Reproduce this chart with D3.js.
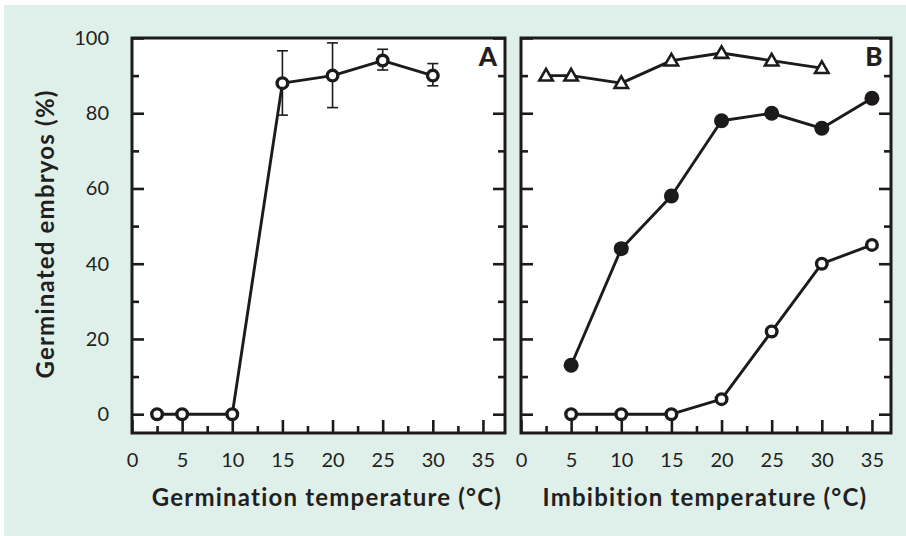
<!DOCTYPE html>
<html>
<head>
<meta charset="utf-8">
<script src="https://cdn.jsdelivr.net/npm/d3@7"></script>
<style>
  body { margin: 0; background: #fff; }
  svg text { font-family: Lato, "Open Sans", sans-serif; fill: #231f20; }
</style>
</head>
<body>
<div class="canvas"></div>
<script>
// panel A: germination temperature
const germTemp = [2.5, 5, 10, 15, 20, 25, 30];
const germPct = [0, 0, 0, 88, 90, 94, 90];
const germErrLow = [null, null, null, 79.5, 81.5, 91.5, 87.3];
const germErrHigh = [null, null, null, 96.6, 98.7, 97, 93.2];

// panel B: imbibition temperature
const triTemp = [2.5, 5, 10, 15, 20, 25, 30];
const triPct = [90, 90, 88, 94, 96, 94, 92];
const filledTemp = [5, 10, 15, 20, 25, 30, 35];
const filledPct = [13, 44, 58, 78, 80, 76, 84];
const openTemp = [5, 10, 15, 20, 25, 30, 35];
const openPct = [0, 0, 0, 4, 22, 40, 45];

const xTicks = [0, 5, 10, 15, 20, 25, 30, 35];
const xMinor = [2.5, 7.5, 12.5, 17.5, 22.5, 27.5, 32.5];
const yTicks = [0, 20, 40, 60, 80, 100];
const yMinor = [10, 30, 50, 70, 90];

const totalWidth = 906;
const totalHeight = 536;
const ink = "#1c1a1b";

const svg = d3.select(".canvas")
  .append("svg")
  .attr("width", totalWidth)
  .attr("height", totalHeight);

svg.append("rect")
  .attr("x", 4).attr("y", 5)
  .attr("width", totalWidth - 4).attr("height", totalHeight - 5)
  .attr("fill", "#dff0ea");

const plotTop = 38, plotBottom = 433;
const y = d3.scaleLinear().domain([-5, 100]).range([plotBottom, plotTop]);

function panel(left, right, xMax, letter, showY) {
  const x = d3.scaleLinear().domain([0, xMax]).range([left, right]);
  const g = svg.append("g");

  g.append("rect")
    .attr("x", left).attr("y", plotTop)
    .attr("width", right - left).attr("height", plotBottom - plotTop)
    .attr("fill", "#fff");

  const styleAxis = sel => {
    sel.select(".domain").remove();
    sel.selectAll(".tick line").attr("stroke", ink).attr("stroke-width", 2.6);
    sel.selectAll("text").attr("font-size", 20).attr("fill", ink)
      .style("font-family", "Lato, sans-serif");
  };

  // bottom axis with labels
  g.append("g").attr("transform", `translate(0,${plotBottom})`)
    .call(d3.axisBottom(x).tickValues(xTicks).tickSize(-13).tickPadding(20))
    .call(styleAxis);
  g.append("g").attr("transform", `translate(0,${plotBottom})`)
    .call(d3.axisBottom(x).tickValues(xMinor).tickSize(-7).tickFormat(""))
    .call(styleAxis);

  // left and right ticks
  const yl = d3.axisLeft(y).tickValues(yTicks).tickSize(-12).tickPadding(23);
  if (!showY) yl.tickFormat("");
  g.append("g").attr("transform", `translate(${left},0)`).call(yl).call(styleAxis);
  g.append("g").attr("transform", `translate(${left},0)`)
    .call(d3.axisLeft(y).tickValues(yMinor).tickSize(-7).tickFormat("")).call(styleAxis);
  g.append("g").attr("transform", `translate(${right},0)`)
    .call(d3.axisRight(y).tickValues(yTicks).tickSize(-12).tickFormat("")).call(styleAxis);
  g.append("g").attr("transform", `translate(${right},0)`)
    .call(d3.axisRight(y).tickValues(yMinor).tickSize(-7).tickFormat("")).call(styleAxis);

  g.append("rect")
    .attr("x", left).attr("y", plotTop)
    .attr("width", right - left).attr("height", plotBottom - plotTop)
    .attr("fill", "none").attr("stroke", ink).attr("stroke-width", 3);

  g.append("text")
    .attr("x", right - 17).attr("y", 66)
    .attr("text-anchor", "middle")
    .attr("font-size", 26).attr("font-weight", 900)
    .text(letter);

  return { x, g };
}

const line = x => d3.line().x(d => x(d[0])).y(d => y(d[1]));

function drawSeries(p, xs, ys, marker) {
  const pts = xs.map((v, i) => [v, ys[i]]);
  p.g.append("path").datum(pts)
    .attr("fill", "none").attr("stroke", ink).attr("stroke-width", 2.9)
    .attr("stroke-linejoin", "round")
    .attr("d", line(p.x));
  if (marker === "open") {
    p.g.selectAll(null).data(pts).enter().append("circle")
      .attr("cx", d => p.x(d[0])).attr("cy", d => y(d[1]))
      .attr("r", 5.3).attr("fill", "#fff").attr("stroke", ink).attr("stroke-width", 3.4);
  } else if (marker === "filled") {
    p.g.selectAll(null).data(pts).enter().append("circle")
      .attr("cx", d => p.x(d[0])).attr("cy", d => y(d[1]))
      .attr("r", 7.5).attr("fill", ink);
  } else {
    const tri = d3.symbol(d3.symbolTriangle, 78);
    p.g.selectAll(null).data(pts).enter().append("path")
      .attr("transform", d => `translate(${p.x(d[0])},${y(d[1]) + 1})`)
      .attr("d", tri).attr("fill", "#fff").attr("stroke", ink).attr("stroke-width", 2.6)
      .attr("stroke-linejoin", "miter");
  }
}

// panel A
const pA = panel(132, 505, 37.2, "A", true);
germTemp.forEach((t, i) => {
  if (germErrLow[i] == null) return;
  const cx = pA.x(t);
  const eg = pA.g.append("g").attr("stroke", ink).attr("stroke-width", 1.6);
  eg.append("line").attr("x1", cx).attr("x2", cx).attr("y1", y(germErrLow[i])).attr("y2", y(germErrHigh[i]));
  eg.append("line").attr("x1", cx - 5.5).attr("x2", cx + 5.5).attr("y1", y(germErrLow[i])).attr("y2", y(germErrLow[i]));
  eg.append("line").attr("x1", cx - 5.5).attr("x2", cx + 5.5).attr("y1", y(germErrHigh[i])).attr("y2", y(germErrHigh[i]));
});
drawSeries(pA, germTemp, germPct, "open");

// panel B
const pB = panel(521, 891, 36.9, "B", false);
drawSeries(pB, triTemp, triPct, "triangle");
drawSeries(pB, filledTemp, filledPct, "filled");
drawSeries(pB, openTemp, openPct, "open");

// axis titles
const titleStyle = sel => sel
  .attr("text-anchor", "middle").attr("font-size", 24).attr("font-weight", 700)
  .attr("letter-spacing", 1.2);

svg.append("text")
  .attr("x", 327).attr("y", 506)
  .call(titleStyle)
  .text("Germination temperature (°C)");
svg.append("text")
  .attr("x", 705).attr("y", 506)
  .call(titleStyle)
  .text("Imbibition temperature (°C)");
svg.append("text")
  .attr("transform", "translate(54,234) rotate(-90)")
  .call(titleStyle)
  .text("Germinated embryos (%)");
</script>
</body>
</html>
